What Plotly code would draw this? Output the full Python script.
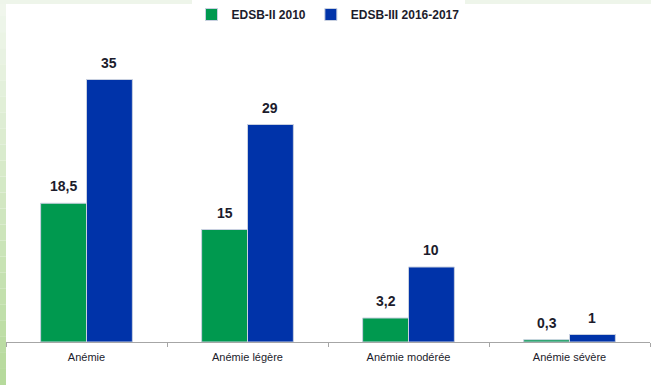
import plotly.graph_objects as go

# Anaemia prevalence by survey round
categories = ["Anémie", "Anémie légère", "Anémie modérée", "Anémie sévère"]
series_names = ["EDSB-II 2010", "EDSB-III 2016-2017"]
edsb_2010 = [18.5, 15, 3.2, 0.3]
edsb_2017 = [35, 29, 10, 1]

W, H = 651, 385
ML, MR, MT, MB = 6, 1, 42, 43
FONT = "Liberation Sans, Arial, sans-serif"
TXT = "#1c1c2c"
BARGAP = 0.43

pw, ph = W - ML - MR, H - MT - MB
bar_px = pw / len(categories) * (1 - BARGAP) / 2

def fmt(v):
    return ("%g" % v).replace(".", ",")

fig = go.Figure()
annotations = []
for k, (name, vals, color) in enumerate([
    (series_names[0], edsb_2010, "#00994f"),
    (series_names[1], edsb_2017, "#0033a9"),
]):
    fig.add_trace(go.Bar(
        name=name, x=categories, y=vals,
        marker=dict(color=color, line=dict(color="#c8d0e0", width=1)),
    ))
    shift = (k - 0.5) * bar_px
    for c, v in zip(categories, vals):
        annotations.append(dict(
            x=c, y=v, xref="x", yref="y", text="<b>%s</b>" % fmt(v),
            showarrow=False, xshift=shift, yanchor="bottom", yshift=7,
            font=dict(family=FONT, size=14, color=TXT),
        ))

# light green frame strips (left gradient, top band)
def px(x):
    return (x - ML) / pw
def py(y):
    return (H - MB - y) / ph

shapes = []
top_c, bot_c = (240, 246, 236), (182, 218, 156)
n = 24
for i in range(n):
    t = i / (n - 1)
    c = tuple(round(a + (b - a) * t) for a, b in zip(top_c, bot_c))
    y0, y1 = H * i / n, H * (i + 1) / n
    shapes.append(dict(type="rect", xref="paper", yref="paper",
                       x0=px(0), x1=px(6), y0=py(y1), y1=py(y0),
                       fillcolor="rgb(%d,%d,%d)" % c, line=dict(width=0), layer="below"))
shapes.append(dict(type="rect", xref="paper", yref="paper",
                   x0=px(0), x1=px(W), y0=py(4), y1=py(0),
                   fillcolor="#eef5ea", line=dict(width=0), layer="below"))

fig.update_layout(
    width=W, height=H,
    margin=dict(l=ML, r=MR, t=MT, b=MB),
    paper_bgcolor="white", plot_bgcolor="white",
    barmode="group", bargap=BARGAP, bargroupgap=0,
    font=dict(family=FONT, color=TXT),
    legend=dict(orientation="h", x=0.5, xanchor="center", y=1.0, yanchor="top",
                yref="container",
                font=dict(family=FONT, size=12, color=TXT, weight="bold"),
                itemwidth=30, traceorder="normal"),
    shapes=shapes,
    annotations=annotations,
    showlegend=True,
)
fig.update_xaxes(showline=True, linecolor="#a6a6a6", linewidth=1,
                 ticks="outside", tickson="boundaries", ticklen=4, tickcolor="#a6a6a6",
                 ticklabelstandoff=5,
                 tickfont=dict(family=FONT, size=11, color=TXT), showgrid=False)
fig.update_yaxes(range=[0, 40], visible=False, showgrid=False)

fig.write_html("out.html")
